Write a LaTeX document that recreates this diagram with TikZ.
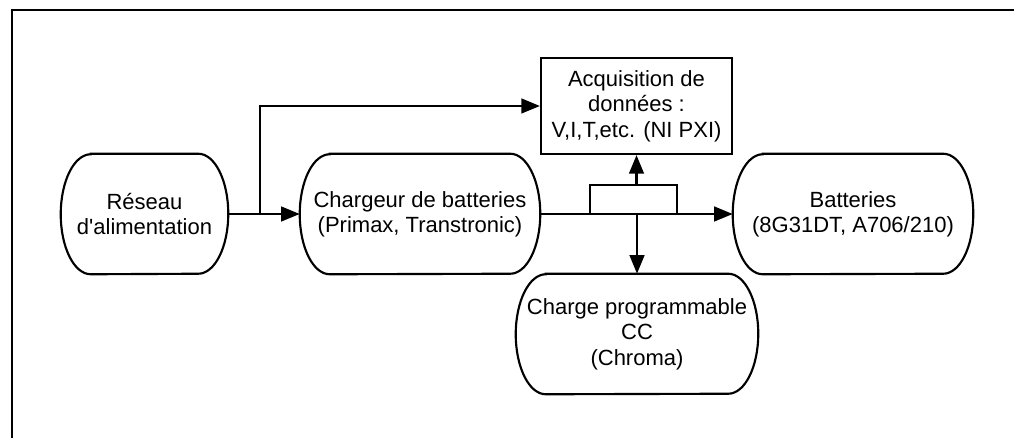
\documentclass[tikz,border=0pt]{standalone}
\usepackage{fontspec}
\setmainfont{Liberation Sans}
\usetikzlibrary{arrows.meta,calc}
\tikzset{
  term/.style={draw=none, inner sep=0pt, minimum height=90pt, align=center},
  boxnode/.style={draw, line width=1.6pt, inner sep=0pt, align=center},
  arr/.style={line width=1.9pt, -{Triangle[length=14pt,width=11pt]}},
  outline/.style={line width=1.6pt},
}
\newcommand{\termshape}[1]{%
  \draw[outline] ([xshift=22.5pt]#1.north west) -- ([xshift=-22.5pt]#1.north east)
    arc[start angle=90,end angle=-90,x radius=22.5pt,y radius=45pt]
    -- ([xshift=22.5pt]#1.south west)
    arc[start angle=270,end angle=90,x radius=22.5pt,y radius=45pt] -- cycle;}
\begin{document}
\begin{tikzpicture}[x=0.75pt,y=-0.75pt,font=\fontsize{16.5}{19}\selectfont]
\useasboundingbox (0,0) rectangle (1014,438);
% frame
\coordinate (f1) at (12,438);
\coordinate (f2) at (12,10);
\coordinate (f3) at (1014,10);
\draw[line width=2pt] (f1) -- (f2) -- (f3);
% nodes
\node[term, minimum width=125.25pt] (res) at (144.5,214) {Réseau\\d\textquotesingle alimentation};
\node[term, minimum width=180pt] (chg) at (420,214) {Chargeur de batteries\\(Primax, Transtronic)};
\node[term, minimum width=180pt] (bat) at (853,214) {Batteries\\(8G31DT, A706/210)};
\node[term, minimum width=181.5pt] (load) at (637,334) {Charge programmable\\CC\\(Chroma)};
\node[boxnode, minimum width=143.25pt, minimum height=72pt] (acq) at (636.5,106) {Acquisition de\\données :\\V,I,T,etc. (NI PXI)};
\termshape{res}
\termshape{chg}
\termshape{bat}
\termshape{load}
% connectors
\coordinate (br) at (260,214);
\draw[arr] (res.east) -- (chg.west);
\draw[arr] (br) |- (acq.west);
\draw[arr] (chg.east) -- (bat.west);
\node[boxnode, fill=white, minimum width=65.25pt, minimum height=21.75pt] (sensor) at (633.5,199.5) {};
\draw[arr] (acq.south |- sensor.north) -- (acq.south);
\draw[arr] (load.north |- sensor.south) -- (load.north);
\end{tikzpicture}
\end{document}
